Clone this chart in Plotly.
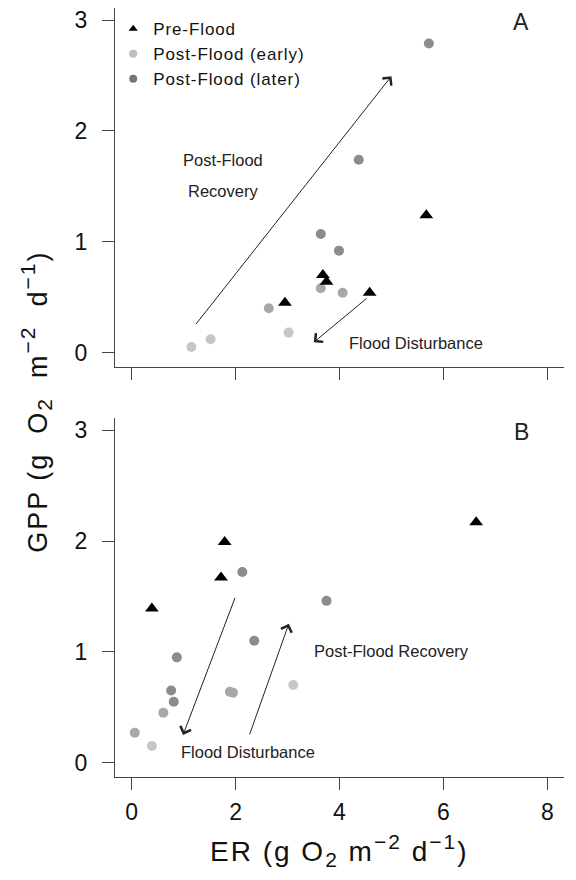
import plotly.graph_objects as go

# ---------------- data ----------------
# Panel A
a_pre_x = [2.95, 3.68, 3.75, 4.58, 5.67]
a_pre_y = [0.45, 0.70, 0.64, 0.54, 1.24]
a_early_x = [1.15, 1.52, 3.02]
a_early_y = [0.05, 0.12, 0.18]
a_mid_x = [2.64, 3.64, 4.06]
a_mid_y = [0.40, 0.58, 0.54]
a_late_x = [3.64, 3.99, 4.37, 5.72]
a_late_y = [1.07, 0.92, 1.74, 2.79]

# Panel B
b_pre_x = [0.39, 1.72, 1.79, 6.63]
b_pre_y = [1.39, 1.67, 1.99, 2.17]
b_early_x = [0.39, 3.11]
b_early_y = [0.15, 0.70]
b_mid_x = [0.06, 0.61, 1.89, 1.95]
b_mid_y = [0.27, 0.45, 0.64, 0.63]
b_late_x = [0.87, 0.76, 0.81, 2.13, 2.36, 3.75]
b_late_y = [0.95, 0.65, 0.55, 1.72, 1.10, 1.46]

x_ticks = [0, 2, 4, 6, 8]
y_ticks = [0, 1, 2, 3]
legend_names = ["Pre-Flood", "Post-Flood (early)", "Post-Flood (later)"]

# ---------------- styles ----------------
FONT = "Liberation Sans, Arial, sans-serif"
C_PRE = "#000000"
C_EARLY = "#c6c6c6"
C_MID = "#a8a8a8"
C_LATE = "#8c8c8c"
C_LEG_EARLY = "#bdbdbd"
C_LEG_LATE = "#777777"
AXC = "#444444"

fig = go.Figure()


def add_points(x, y, color, symbol, size, xa, ya):
    fig.add_trace(go.Scatter(
        x=x, y=y, mode="markers", xaxis=xa, yaxis=ya, showlegend=False,
        marker=dict(color=color, symbol=symbol, size=size, line=dict(width=0)),
        hoverinfo="x+y"))


for xa, ya, sets in [
    ("x", "y", [(a_early_x, a_early_y, C_EARLY), (a_mid_x, a_mid_y, C_MID), (a_late_x, a_late_y, C_LATE)]),
    ("x2", "y2", [(b_early_x, b_early_y, C_EARLY), (b_mid_x, b_mid_y, C_MID), (b_late_x, b_late_y, C_LATE)]),
]:
    for sx, sy, c in sets:
        add_points(sx, sy, c, "circle", 10, xa, ya)

add_points(a_pre_x, a_pre_y, C_PRE, "triangle-up", 12, "x", "y")
add_points(b_pre_x, b_pre_y, C_PRE, "triangle-up", 12, "x2", "y2")

# legend-only traces
for name, col, sym in zip(legend_names, [C_PRE, C_LEG_EARLY, C_LEG_LATE],
                          ["triangle-up", "circle", "circle"]):
    fig.add_trace(go.Scatter(x=[None], y=[None], mode="markers",
                             name='<span style="letter-spacing:0.9px">' + name + "</span>",
                             xaxis="x", yaxis="y",
                             marker=dict(color=col, symbol=sym, size=8)))

axis_common = dict(
    showline=True, linecolor=AXC, linewidth=1, ticks="outside", ticklen=12,
    tickcolor=AXC, tickwidth=1, showgrid=False, zeroline=False,
    tickfont=dict(family=FONT, size=23, color="#111111"), mirror=False,
    ticklabeloverflow="allow",
)

fig.update_layout(
    width=576, height=880,
    margin=dict(l=107, r=20, t=0, b=111),
    paper_bgcolor="white", plot_bgcolor="white",
    font=dict(family=FONT, color="#111111"),
    xaxis=dict(domain=[0, 1], anchor="y", range=[-0.32, 8.32], tickvals=x_ticks,
               showticklabels=False, **axis_common),
    yaxis=dict(domain=[0.5332, 1], anchor="x", range=[-0.13, 3.11], tickvals=y_ticks,
               ticklabelstandoff=10, **axis_common),
    xaxis2=dict(domain=[0, 1], anchor="y2", range=[-0.32, 8.32], tickvals=x_ticks,
                ticklabelstandoff=2, **axis_common),
    yaxis2=dict(domain=[0, 0.4668], anchor="x2", range=[-0.13, 3.11], tickvals=y_ticks,
                ticklabelstandoff=10, **axis_common),
    showlegend=True,
    legend=dict(x=-0.004, y=0.996, xanchor="left", yanchor="top", bgcolor="rgba(0,0,0,0)",
                font=dict(family=FONT, size=17, color="#111111"),
                itemwidth=30, tracegroupgap=0),
)

ann = []


def arrow(x, y, ax, ay, xr, yr):
    ann.append(dict(x=x, y=y, ax=ax, ay=ay, xref=xr, yref=yr, axref=xr, ayref=yr,
                    showarrow=True, arrowhead=4, arrowsize=2.2, arrowwidth=1,
                    arrowcolor="#222222", text="", standoff=0, startstandoff=0))


def label(text, x, y, xr, yr, size=16.5):
    ann.append(dict(x=x, y=y, xref=xr, yref=yr, text=text, showarrow=False,
                    font=dict(family=FONT, size=size, color="#222222"),
                    xanchor="center", yanchor="middle"))


# Panel A
arrow(5.0, 2.495, 1.217, 0.244, "x", "y")
arrow(3.506, 0.093, 4.55, 0.50, "x", "y")
label("Post-Flood", 1.76, 1.736, "x", "y")
label("Recovery", 1.76, 1.456, "x", "y")
label("Flood Disturbance", 5.48, 0.088, "x", "y")
label("A", 7.5, 2.98, "x", "y", size=23)

# Panel B
arrow(0.99, 0.25, 2.0, 1.5, "x2", "y2")
arrow(3.025, 1.253, 2.26, 0.241, "x2", "y2")
label("Post-Flood Recovery", 5.0, 1.003, "x2", "y2")
label("Flood Disturbance", 2.24, 0.094, "x2", "y2")
label("B", 7.5, 2.985, "x2", "y2", size=23)

SUP = '<span style="font-size:21px;letter-spacing:{ls}px">{t}</span>'


def unit_title(prefix, ls, gap):
    return ('<span style="letter-spacing:%spx">' % ls + prefix + " (g" + gap + " O</span><sub>"
            + SUP.format(ls=ls, t="2") + '</sub><span style="letter-spacing:%spx">' % ls
            + gap + " m</span><sup>" + SUP.format(ls=ls, t="−2")
            + '</sup><span style="letter-spacing:%spx">' % ls + gap + " d</span><sup>"
            + SUP.format(ls=ls, t="−1") + '</sup><span style="letter-spacing:%spx">)</span>' % ls)


x_title = unit_title("ER", 2, "")
y_title = unit_title("GPP", 2, "&nbsp;")

ann.append(dict(x=0.5, y=-0.096, xref="paper", yref="paper", showarrow=False,
                text=x_title, font=dict(family=FONT, size=28, color="#111111"),
                xanchor="center", yanchor="middle"))
ann.append(dict(x=-0.176, y=0.488, xref="paper", yref="paper", showarrow=False,
                text=y_title, textangle=-90,
                font=dict(family=FONT, size=27, color="#111111"),
                xanchor="center", yanchor="middle"))

fig.update_layout(annotations=ann)
fig.write_html("out.html")
